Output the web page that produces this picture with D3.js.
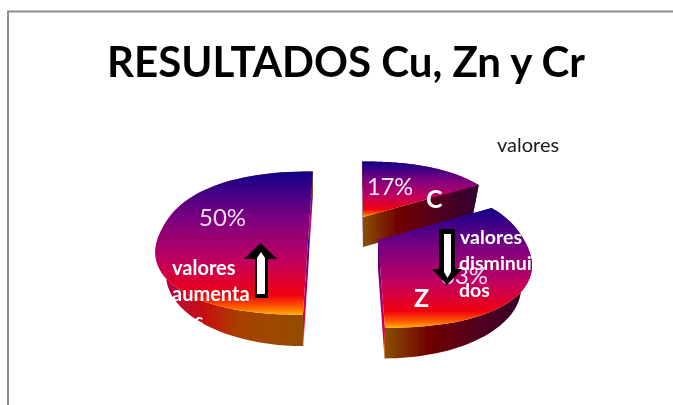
<!DOCTYPE html>
<html>
<head>
  <meta charset="utf-8">
  <script src="https://cdn.jsdelivr.net/npm/d3@7"></script>
  <style>
    html, body { margin: 0; padding: 0; background: #fff; }
    svg { display: block; }
    text { font-family: Lato, "Open Sans", sans-serif; }
  </style>
</head>
<body>
  <div id="chart"></div>
  <script>
  // chart values
  const categories = ['Cu', 'Cr', 'Zn'];
  const percents = [50, 17, 33];
  const titleText = 'RESULTADOS Cu, Zn y Cr';

  const width = 673;
  const height = 405;

  // where each exploded slice sits, and the point its edges converge to
  const sliceLayout = [
    { cx: 309, cy: 227, vx: 330, drop: 29, side: 'url(#sideLeft)', wall: 'url(#topFill)' },
    { cx: 363, cy: 217, vx: 358, drop: 30, side: 'url(#sideRight)', wall: 'url(#sideRight)' },
    { cx: 378, cy: 240, vx: 354, drop: 28.5, side: 'url(#sideRight)', wall: 'url(#topFill)' }
  ];
  const tilt = 0.225;
  const baseRadius = 0.95; // bottom ring looks a bit smaller than the top one
  const roundness = 0.88; // top outline is fuller than a true ellipse
  const xScale = d3.scaleLinear().domain([-1, 1]).range([-146, 146]);
  const yScale = d3.scaleLinear().domain([-1, 1]).range([68, -68]);

  const svg = d3.select('#chart').append('svg')
    .attr('width', width)
    .attr('height', height);

  svg.append('rect').attr('width', width).attr('height', height).attr('fill', '#fff');

  // gradients
  const defs = svg.append('defs');
  const addGradient = (id, vertical, stops) => {
    const g = defs.append('linearGradient').attr('id', id)
      .attr('x1', 0).attr('y1', 0)
      .attr('x2', vertical ? 0 : 1).attr('y2', vertical ? 1 : 0);
    stops.forEach(s => g.append('stop').attr('offset', s[0]).attr('stop-color', s[1]));
  };
  addGradient('topFill', true, [
    [0, '#12008a'], [0.32, '#7a0080'], [0.62, '#c00060'],
    [0.86, '#f00010'], [0.95, '#ff6000'], [1, '#ffb000']
  ]);
  addGradient('sideLeft', false, [
    [0, '#b00050'], [0.32, '#c81010'], [0.53, '#a84000'], [1, '#8e5000']
  ]);
  addGradient('sideRight', false, [
    [0, '#8a5000'], [0.3, '#700000'], [0.65, '#500020'], [1, '#300030']
  ]);
  // the reference is a slightly soft screenshot
  defs.append('filter').attr('id', 'soft')
    .append('feGaussianBlur').attr('stdDeviation', 0.4);

  const root = svg.append('g').attr('filter', 'url(#soft)');

  // frame
  root.append('path')
    .attr('d', d3.line()([[8, height + 4], [8, 11.5], [width + 4, 11.5]]))
    .attr('fill', 'none')
    .attr('stroke', '#8c8c8c')
    .attr('stroke-width', 2);

  root.append('text')
    .attr('x', 107)
    .attr('y', 77)
    .attr('textLength', 478)
    .attr('lengthAdjust', 'spacingAndGlyphs')
    .attr('font-size', 42)
    .attr('font-weight', 700)
    .attr('fill', '#000')
    .text(titleText);

  root.append('text')
    .attr('x', 497).attr('y', 152)
    .attr('font-size', 20).attr('fill', '#1a1a1a')
    .text('valores');

  // slices
  const pie = d3.pie().sort(null).startAngle(Math.PI).endAngle(3 * Math.PI);
  const arcs = pie(percents);

  const bend = t => Math.sign(t) * Math.pow(Math.abs(t), roundness);
  const project = (l, a, r, drop) => {
    const u = r * (drop ? Math.sin(a) : bend(Math.sin(a)));
    const v = r * (drop ? Math.cos(a) : bend(Math.cos(a)));
    const s = 1 / (1 + tilt * v);
    return [
      l.vx + (l.cx - l.vx + xScale(u)) * s,
      l.cy + (yScale(v) + drop) * s
    ];
  };
  const line = d3.line();
  const rimAngles = d => d3.range(0, 61).map(i => d.startAngle + (d.endAngle - d.startAngle) * i / 60);

  arcs.forEach((d, i) => {
    const l = sliceLayout[i];
    const angles = rimAngles(d);
    const g = root.append('g').attr('class', 'slice ' + categories[i]);

    // flat cut faces, then the outer rim, then the top
    [d.startAngle, d.endAngle].forEach(a => {
      g.append('path')
        .attr('d', line([
          project(l, a, 0, 0), project(l, a, 1, 0),
          project(l, a, baseRadius, l.drop), project(l, a, 0, l.drop)
        ]) + 'Z')
        .attr('fill', l.wall);
    });
    g.append('path')
      .attr('d', line(angles.map(a => project(l, a, 1, 0))
        .concat(angles.slice().reverse().map(a => project(l, a, baseRadius, l.drop)))) + 'Z')
      .attr('fill', l.side);
    g.append('path')
      .attr('d', line([project(l, 0, 0, 0)].concat(angles.map(a => project(l, a, 1, 0)))) + 'Z')
      .attr('fill', 'url(#topFill)');
  });

  // labels drawn on the slices
  const addText = (str, x, y, size, weight, fill) => root.append('text')
    .attr('x', x).attr('y', y)
    .attr('font-size', size).attr('font-weight', weight)
    .attr('fill', fill).text(str);

  addText(percents[0] + '%', 199, 226, 24, 400, '#ecdcf2');
  addText(percents[1] + '%', 367, 195, 23.5, 400, '#f4e8f4');
  addText('C', 426, 208, 25, 700, '#fff');
  addText('Z', 414, 307, 25, 700, '#fff');
  addText(percents[2] + '%', 441, 284, 24, 400, '#ecdcf2');

  // arrows
  const arrowUp = [[260.5, 243], [277, 259], [268, 259], [268, 298], [255, 298], [255, 259], [244, 259]];
  const arrowUpInner = [[261, 252], [265, 258], [265, 294], [257, 294], [257, 258]];
  const arrowDown = [[439, 229], [455, 229], [455, 269], [462, 269], [447, 285], [432, 269], [439, 269]];
  const arrowDownInner = [[444, 234], [451, 234], [451, 272], [447.5, 278], [444, 272]];
  [[arrowUp, '#000'], [arrowUpInner, '#fff'], [arrowDown, '#000'], [arrowDownInner, '#fff']]
    .forEach(a => root.append('path').attr('d', line(a[0]) + 'Z').attr('fill', a[1]));

  addText('valores', 172, 275, 20, 700, '#fff');
  addText('aumenta', 172, 301, 20, 700, '#fff');
  addText('dos', 172, 328, 20, 700, '#fff');
  addText('valores', 460, 244, 19.5, 700, '#fff');
  addText('disminui', 459, 270, 19.5, 700, '#fff');
  addText('dos', 459, 297, 19.5, 700, '#fff');
  </script>
</body>
</html>
